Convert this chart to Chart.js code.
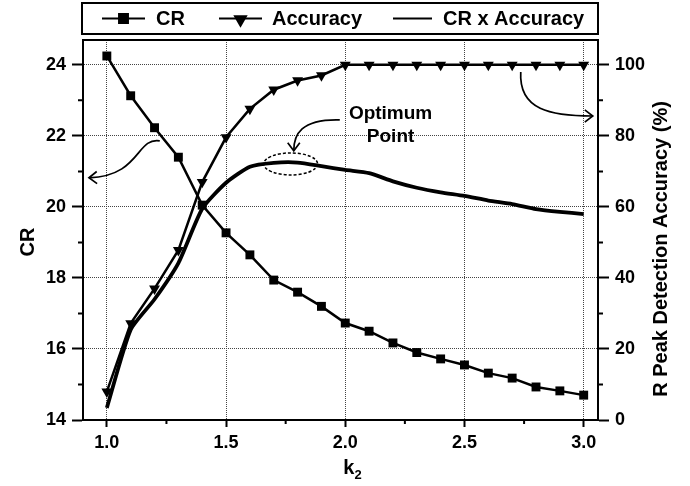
<!DOCTYPE html>
<html>
<head>
<meta charset="utf-8">
<title>CR and accuracy vs k2</title>
<script src="https://cdn.jsdelivr.net/npm/chart.js@4.4.0/dist/chart.umd.min.js"></script>
<style>
  html, body { margin: 0; padding: 0; background: #fff; }
  #wrap { width: 690px; height: 486px; position: relative; }
</style>
</head>
<body>
<div id="wrap"><canvas id="chart"></canvas></div>
<script>
// k2 sweep and the three measured curves
const k2 = [1.0, 1.1, 1.2, 1.3, 1.4, 1.5, 1.6, 1.7, 1.8, 1.9, 2.0,
            2.1, 2.2, 2.3, 2.4, 2.5, 2.6, 2.7, 2.8, 2.9, 3.0];
const crValues = [24.25, 23.13, 22.23, 21.4, 20.05, 19.27, 18.65, 17.94, 17.6, 17.2, 16.73,
                  16.5, 16.17, 15.9, 15.72, 15.55, 15.32, 15.18, 14.93, 14.82, 14.7];
const accuracyValues = [8, 27.2, 37, 47.8, 67, 79.6, 87.6, 93, 95.6, 97, 100,
                        100, 100, 100, 100, 100, 100, 100, 100, 100, 100];
const crTimesAccuracy = [3.4, 25.4, 34, 44.2, 59.5, 66.8, 71.3, 72.4, 72.5, 71.5, 70.4,
                         69.5, 67.2, 65.4, 64.1, 63.1, 61.8, 60.8, 59.4, 58.6, 58];

// axis ticks
const k2Ticks = [1.0, 1.5, 2.0, 2.5, 3.0];
const k2MinorTicks = [1.25, 1.75, 2.25, 2.75];
const crTicks = [14, 16, 18, 20, 22, 24];
const crMinorTicks = [15, 17, 19, 21, 23];
const accTicks = [0, 20, 40, 60, 80, 100];
const accMinorTicks = [10, 30, 50, 70, 90];

const FONT = '"Liberation Sans", Arial, Helvetica, sans-serif';

// callouts, in (k2, accuracy %) units
const optimumRing = { x: 1.771, y: 72.1, rx: 0.113, ry: 3.1 };
const optimumText = { x: 2.19, lines: [['Optimum', 86.2], ['Point', 79.7]] };
const arrowToRing = [[1.977, 84.5], [1.813, 84.8], [1.784, 80.3], [1.784, 75.8]];
const arrowToCrAxis = [[1.222, 78.6], [1.122, 79.7], [1.143, 68.7], [0.925, 68.2]];
const arrowToAccAxis = [[2.736, 98.0], [2.727, 87.3], [2.862, 85.6], [3.038, 85.6]];

function toPoints(ys) {
  return k2.map((x, i) => ({ x: x, y: ys[i] }));
}

function fixedTicks(values) {
  return scale => { scale.ticks = values.map(v => ({ value: v })); };
}

function drawArrow(ctx, x, y, pts) {
  const p = pts.map(([a, b]) => [x.getPixelForValue(a), y.getPixelForValue(b)]);
  ctx.beginPath();
  ctx.moveTo(p[0][0], p[0][1]);
  ctx.bezierCurveTo(p[1][0], p[1][1], p[2][0], p[2][1], p[3][0], p[3][1]);
  ctx.stroke();
  // open arrow head along the last control leg
  const ang = Math.atan2(p[3][1] - p[2][1], p[3][0] - p[2][0]);
  const len = 10, spread = 0.65;
  ctx.beginPath();
  ctx.moveTo(p[3][0] - len * Math.cos(ang - spread), p[3][1] - len * Math.sin(ang - spread));
  ctx.lineTo(p[3][0], p[3][1]);
  ctx.lineTo(p[3][0] - len * Math.cos(ang + spread), p[3][1] - len * Math.sin(ang + spread));
  ctx.stroke();
}

const legendSlots = [
  { from: 20, to: 63, text: 74 },
  { from: 137, to: 180, text: 190 },
  { from: 311, to: 350, text: 361 }
];

const decor = {
  id: 'decor',
  afterDraw(chart) {
    const { ctx, chartArea: a, scales } = chart;
    const x = scales.x, yl = scales.yCR, yr = scales.yAcc;
    ctx.save();
    ctx.strokeStyle = '#000';
    ctx.fillStyle = '#000';

    // plot frame
    ctx.lineWidth = 2;
    ctx.strokeRect(a.left, a.top, a.right - a.left, a.bottom - a.top);

    // minor ticks
    ctx.beginPath();
    crMinorTicks.forEach(v => {
      const py = yl.getPixelForValue(v);
      ctx.moveTo(a.left - 5, py); ctx.lineTo(a.left, py);
    });
    accMinorTicks.forEach(v => {
      const py = yr.getPixelForValue(v);
      ctx.moveTo(a.right, py); ctx.lineTo(a.right + 5, py);
    });
    k2MinorTicks.forEach(v => {
      const px = x.getPixelForValue(v);
      ctx.moveTo(px, a.bottom); ctx.lineTo(px, a.bottom + 4);
    });
    ctx.stroke();

    // axis titles
    ctx.font = 'bold 20px ' + FONT;
    ctx.textAlign = 'center';
    ctx.textBaseline = 'middle';
    ctx.save();
    ctx.translate(28, (a.top + a.bottom) / 2 + 12);
    ctx.rotate(-Math.PI / 2);
    ctx.fillText('CR', 0, 0);
    ctx.restore();
    ctx.save();
    ctx.translate(661, (a.top + a.bottom) / 2 + 19);
    ctx.rotate(-Math.PI / 2);
    ctx.fillText('R Peak Detection Accuracy (%)', 0, 0);
    ctx.restore();

    ctx.textAlign = 'left';
    ctx.textBaseline = 'alphabetic';
    ctx.font = 'bold 20px ' + FONT;
    const kx = x.getPixelForValue(2.0) - 2;
    ctx.fillText('k', kx, 474);
    const kw = ctx.measureText('k').width;
    ctx.font = 'bold 13px ' + FONT;
    ctx.fillText('2', kx + kw, 479);

    // callouts
    ctx.lineWidth = 1.7;
    drawArrow(ctx, x, yr, arrowToRing);
    drawArrow(ctx, x, yr, arrowToCrAxis);
    drawArrow(ctx, x, yr, arrowToAccAxis);

    ctx.setLineDash([3, 2]);
    ctx.lineWidth = 1.5;
    const cx = x.getPixelForValue(optimumRing.x), cy = yr.getPixelForValue(optimumRing.y);
    const rx = x.getPixelForValue(optimumRing.x + optimumRing.rx) - cx;
    const ry = cy - yr.getPixelForValue(optimumRing.y + optimumRing.ry);
    ctx.beginPath();
    ctx.ellipse(cx, cy, rx, ry, 0, 0, Math.PI * 2);
    ctx.stroke();
    ctx.setLineDash([]);

    ctx.font = 'bold 19px ' + FONT;
    ctx.textAlign = 'center';
    ctx.textBaseline = 'middle';
    optimumText.lines.forEach(([t, v]) => {
      ctx.fillText(t, x.getPixelForValue(optimumText.x), yr.getPixelForValue(v));
    });

    // legend box
    const lx = a.left - 1, ly = 3, lw = a.right - a.left + 1, lh = 31;
    ctx.lineWidth = 2;
    ctx.strokeRect(lx, ly, lw, lh);
    const my = ly + lh / 2;
    ctx.font = 'bold 20px ' + FONT;
    ctx.textAlign = 'left';
    chart.data.datasets.forEach((ds, i) => {
      const item = legendSlots[i];
      ctx.lineWidth = 2;
      ctx.beginPath();
      ctx.moveTo(lx + item.from, my);
      ctx.lineTo(lx + item.to, my);
      ctx.stroke();
      if (ds.pointStyle && ds.pointRadius) {
        Chart.helpers.drawPoint(ctx, {
          pointStyle: ds.pointStyle,
          rotation: ds.pointRotation || 0,
          radius: ds.pointRadius,
          borderWidth: 1
        }, lx + (item.from + item.to) / 2, my + (ds.pointRotation ? 1 : 0));
      }
      ctx.fillStyle = '#000';
      ctx.fillText(ds.label, lx + item.text, my + 1);
    });
    ctx.restore();
  }
};

new Chart(document.getElementById('chart'), {
  type: 'line',
  data: {
    datasets: [
      {
        label: 'CR',
        data: toPoints(crValues),
        yAxisID: 'yCR',
        borderColor: '#000',
        backgroundColor: '#000',
        borderWidth: 2.5,
        pointStyle: 'rect',
        pointRadius: 6.3,
        pointBorderWidth: 0,
        tension: 0
      },
      {
        label: 'Accuracy',
        data: toPoints(accuracyValues),
        yAxisID: 'yAcc',
        borderColor: '#000',
        backgroundColor: '#000',
        borderWidth: 2.5,
        pointStyle: 'triangle',
        pointRotation: 180,
        pointRadius: 6.3,
        pointBorderWidth: 0,
        tension: 0
      },
      {
        label: 'CR x Accuracy',
        data: toPoints(crTimesAccuracy),
        yAxisID: 'yAcc',
        borderColor: '#000',
        borderWidth: 3.8,
        pointRadius: 0,
        tension: 0.2
      }
    ]
  },
  options: {
    responsive: true,
    maintainAspectRatio: false,
    animation: false,
    layout: { padding: { top: 40, left: 0, right: 0, bottom: 0 } },
    plugins: { legend: { display: false }, tooltip: { enabled: false } },
    scales: {
      x: {
        type: 'linear',
        min: 0.9,
        max: 3.06,
        afterBuildTicks: fixedTicks(k2Ticks),
        afterFit: s => { s.height = 66; },
        grid: {
          color: '#444',
          lineWidth: 1,
          tickColor: '#000',
          tickWidth: 2,
          tickLength: 7
        },
        border: { color: '#000', width: 2, dash: [1, 1] },
        ticks: {
          color: '#000',
          padding: 5,
          font: { family: FONT, size: 18, weight: 'bold' },
          callback: v => v.toFixed(1),
          maxRotation: 0
        }
      },
      yCR: {
        type: 'linear',
        position: 'left',
        min: 14,
        max: 24.7,
        afterBuildTicks: fixedTicks(crTicks),
        afterFit: s => { s.width = 83; },
        grid: {
          color: '#444',
          lineWidth: 1,
          tickColor: '#000',
          tickWidth: 2,
          tickLength: 11
        },
        border: { color: '#000', width: 2, dash: [1, 1] },
        ticks: {
          color: '#000',
          padding: 6,
          font: { family: FONT, size: 18, weight: 'bold' }
        }
      },
      yAcc: {
        type: 'linear',
        position: 'right',
        min: 0,
        max: 107,
        afterBuildTicks: fixedTicks(accTicks),
        afterFit: s => { s.width = 92; },
        grid: {
          drawOnChartArea: false,
          tickColor: '#000',
          tickWidth: 2,
          tickLength: 11
        },
        border: { color: '#000', width: 2 },
        ticks: {
          color: '#000',
          padding: 6,
          font: { family: FONT, size: 18, weight: 'bold' }
        }
      }
    }
  },
  plugins: [decor]
});
</script>
</body>
</html>
